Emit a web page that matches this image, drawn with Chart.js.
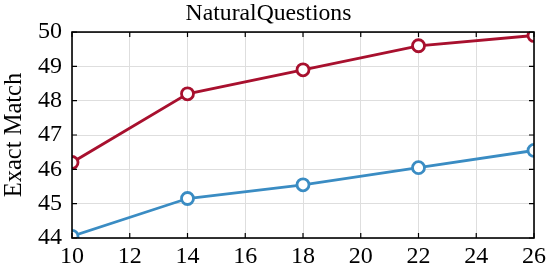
<!DOCTYPE html>
<html>
<head>
<meta charset="utf-8">
<script src="https://cdn.jsdelivr.net/npm/chart.js@4"></script>
<style>
html,body{margin:0;padding:0;background:#fff;}
#wrap{width:550px;height:270px;}
</style>
</head>
<body>
<div id="wrap"><canvas id="c" width="550" height="270"></canvas></div>
<script>
const xValues = [10, 14, 18, 22, 26];
const redSeries = [46.2, 48.2, 48.9, 49.6, 49.9];
const blueSeries = [44.05, 45.15, 45.55, 46.05, 46.55];
const xTicks = [10, 12, 14, 16, 18, 20, 22, 24, 26];
const yTicks = [44, 45, 46, 47, 48, 49, 50];
const titleText = 'NaturalQuestions';
const yTitle = 'Exact Match';

const FONT = "'Liberation Serif', 'Times New Roman', serif";

const frameTicks = {
  id: 'frameTicks',
  afterDraw(chart) {
    const {ctx, chartArea: a, scales: {x, y}} = chart;
    ctx.save();
    ctx.strokeStyle = '#000';
    ctx.lineWidth = 1.6;
    ctx.strokeRect(a.left, a.top, a.right - a.left, a.bottom - a.top);
    const L = 5;
    ctx.lineWidth = 1.2;
    ctx.beginPath();
    xTicks.forEach(v => {
      const px = x.getPixelForValue(v);
      ctx.moveTo(px, a.bottom); ctx.lineTo(px, a.bottom - L);
      ctx.moveTo(px, a.top); ctx.lineTo(px, a.top + L);
    });
    yTicks.forEach(v => {
      const py = y.getPixelForValue(v);
      ctx.moveTo(a.left, py); ctx.lineTo(a.left + L, py);
      ctx.moveTo(a.right, py); ctx.lineTo(a.right - L, py);
    });
    ctx.stroke();
    ctx.restore();
  }
};

new Chart(document.getElementById('c'), {
  type: 'line',
  data: {
    datasets: [
      {
        data: xValues.map((v, i) => ({x: v, y: redSeries[i]})),
        borderColor: '#A8102E',
        backgroundColor: '#ffffff',
        borderWidth: 2.8,
        pointRadius: 6,
        pointBorderWidth: 2.8,
        pointBackgroundColor: '#ffffff',
        pointBorderColor: '#A8102E',
        clip: 0,
        tension: 0
      },
      {
        data: xValues.map((v, i) => ({x: v, y: blueSeries[i]})),
        borderColor: '#3A8CC3',
        backgroundColor: '#ffffff',
        borderWidth: 2.8,
        pointRadius: 6,
        pointBorderWidth: 2.8,
        pointBackgroundColor: '#ffffff',
        pointBorderColor: '#3A8CC3',
        clip: 0,
        tension: 0
      }
    ]
  },
  options: {
    responsive: false,
    animation: false,
    devicePixelRatio: 1,
    layout: {padding: {left: 0, right: 13, top: 0, bottom: 0}},
    plugins: {
      legend: {display: false},
      tooltip: {enabled: false},
      title: {
        display: true,
        text: titleText,
        color: '#000',
        font: {family: FONT, size: 23.7, weight: 'normal', lineHeight: 1.2},
        padding: {top: 0, bottom: 3.6}
      }
    },
    scales: {
      x: {
        type: 'linear',
        min: 10, max: 26,
        afterBuildTicks(s) { s.ticks = xTicks.map(v => ({value: v})); },
        afterFit(s) { s.height = 32; },
        ticks: {color: '#000', font: {family: FONT, size: 24}, padding: 4, maxRotation: 0},
        grid: {color: '#dedede', lineWidth: 1, drawTicks: false},
        border: {display: false}
      },
      y: {
        type: 'linear',
        min: 44, max: 50,
        afterBuildTicks(s) { s.ticks = yTicks.map(v => ({value: v})); },
        afterFit(s) { s.width = 72; },
        ticks: {color: '#000', font: {family: FONT, size: 24}, padding: 10},
        grid: {color: '#dedede', lineWidth: 1, drawTicks: false},
        border: {display: false},
        title: {
          display: true,
          text: yTitle,
          color: '#000',
          font: {family: FONT, size: 24.5},
          padding: {top: 0, bottom: 0}
        }
      }
    }
  },
  plugins: [frameTicks]
});
</script>
</body>
</html>
